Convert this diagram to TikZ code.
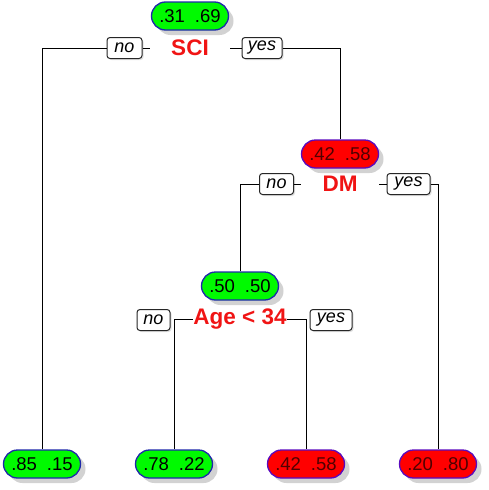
\documentclass[tikz,border=0pt]{standalone}
\usepackage{fontspec}
\setmainfont{Liberation Sans}
\usetikzlibrary{shapes.misc,shadows}
\definecolor{pgreen}{RGB}{0,250,0}
\definecolor{pred}{RGB}{255,0,0}
\definecolor{gborder}{RGB}{30,40,170}
\definecolor{rborder}{RGB}{90,10,190}
\definecolor{darkred}{RGB}{80,0,0}
\definecolor{sred}{RGB}{240,20,20}
\begin{document}
\begin{tikzpicture}[x=1pt,y=-1pt,
  pill/.style={rounded rectangle, line width=1.3pt, minimum width=77pt, minimum height=28pt,
    inner sep=0pt, font=\fontsize{18.5}{18.5}\selectfont,
    drop shadow={shadow xshift=5pt, shadow yshift=-5pt, fill=black!35, opacity=.5}},
  gpill/.style={pill, draw=gborder, fill=pgreen, text=black},
  rpill/.style={pill, draw=rborder, fill=pred, text=darkred},
  splitlab/.style={text=sred, font=\bfseries\fontsize{22.5}{22.5}\selectfont, inner sep=0pt, minimum height=22pt},
  lab/.style={draw=black!85, fill=white, rounded corners=3pt, line width=1pt, inner sep=0pt,
    minimum height=21pt, font=\itshape\fontsize{18}{18}\selectfont,
    drop shadow={shadow xshift=1.5pt, shadow yshift=-1.5pt, fill=black!30, opacity=.4}},
  conn/.style={draw=black, line width=0.9pt}
]
\useasboundingbox (0,0) rectangle (489,490);
\newcommand{\pr}[2]{#1\hspace{10pt}#2}
% nodes
\node[gpill] (root) at (190,16) {\pr{.31}{.69}};
\node[splitlab, minimum width=80pt] (sci) at (190,48) {SCI};
\node[lab, minimum width=35pt] (no1) at (124.5,48) {no};
\node[lab, minimum width=40pt] (yes1) at (262,48) {yes};

\node[rpill] (dm) at (340,154) {\pr{.42}{.58}};
\node[splitlab, minimum width=78pt] (dml) at (340,184) {DM};
\node[lab, minimum width=34pt] (no2) at (276.5,184) {no};
\node[lab, minimum width=43pt] (yes2) at (408.5,184) {yes};

\node[gpill] (mid) at (240,286) {\pr{.50}{.50}};
\node[splitlab, minimum width=92pt] (age) at (240,319) {Age < 34};
\node[lab, minimum width=33pt] (no3) at (153.5,320) {no};
\node[lab, minimum width=42pt] (yes3) at (331,320) {yes};

\node[gpill] (l1) at (42,464) {\pr{.85}{.15}};
\node[gpill] (l2) at (174,464) {\pr{.78}{.22}};
\node[rpill] (l3) at (306,464) {\pr{.42}{.58}};
\node[rpill] (l4) at (438,464) {\pr{.20}{.80}};

% connectors
\draw[conn] (no1.west) -| (l1.north);
\draw[conn] (no1.east) -- (sci.west);
\draw[conn] (sci.east) -- (yes1.west);
\draw[conn] (yes1.east) -| (dm.north);
\draw[conn] (no2.west) -| (mid.north);
\draw[conn] (no2.east) -- (dml.west);
\draw[conn] (dml.east) -- (yes2.west);
\draw[conn] (yes2.east) -| (l4.north);
\draw[conn] (age.west) -| (l2.north);
\draw[conn] (age.east) -| (l3.north);
\end{tikzpicture}
\end{document}
